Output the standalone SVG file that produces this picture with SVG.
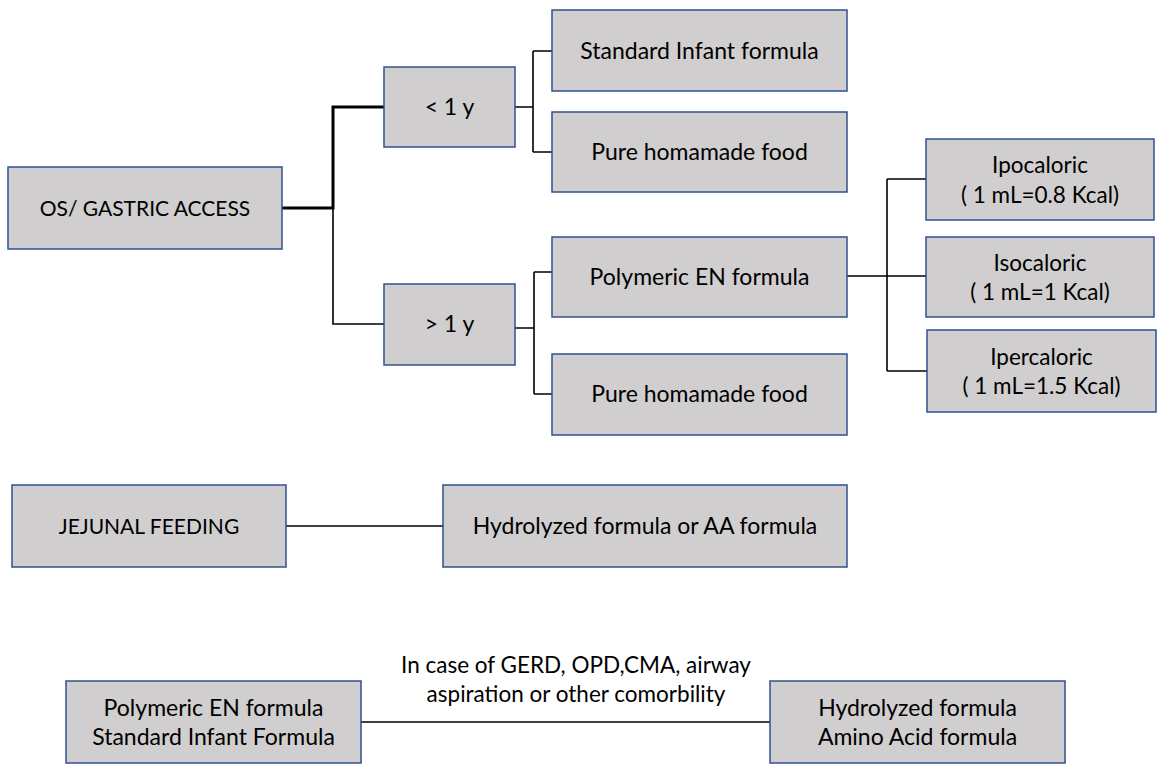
<svg xmlns="http://www.w3.org/2000/svg" width="1170" height="772" viewBox="0 0 1170 772">
<style>
.box{fill:#d0cece;stroke:#2f528f;stroke-width:1.5}
.t{font-family:Lato,"Open Sans","Liberation Sans",sans-serif;font-size:23px;fill:#000;text-anchor:middle}
.cap{font-size:21px}
.m{font-size:22.5px}
.c{fill:none;stroke:#000;stroke-width:1.6}
.ck{fill:none;stroke:#000;stroke-width:3}
</style>
<rect width="1170" height="772" fill="#fff"/>
<g id="connectors">
<path class="ck" d="M282,208 H333 V107 H384"/>
<path class="c" d="M333,208 V324 H384"/>
<path class="c" d="M515,107 H533 M533,51 V152 M533,51 H552 M533,152 H552"/>
<path class="c" d="M515,328 H534 M534,272 V394 M534,272 H552 M534,394 H552"/>
<path class="c" d="M847,276 H926 M887,179 V371 M887,179 H926 M887,371 H927"/>
<path class="c" d="M286,526 H443"/>
<path class="c" d="M361,722 H770"/>
</g>
<g id="os"><rect class="box" x="8" y="167" width="274" height="82"/><text class="t cap" x="145" y="216">OS/ GASTRIC ACCESS</text></g>
<g id="lt1"><rect class="box" x="384" y="67" width="131" height="80"/><text class="t" x="449.5" y="115">&lt; 1 y</text></g>
<g id="gt1"><rect class="box" x="384" y="284" width="131" height="81"/><text class="t" x="449.5" y="332">&gt; 1 y</text></g>
<g id="std"><rect class="box" x="552" y="10" width="295" height="81"/><text class="t" x="699.5" y="59">Standard Infant formula</text></g>
<g id="pure1"><rect class="box" x="552" y="112" width="295" height="80"/><text class="t" x="699.5" y="160">Pure homamade food</text></g>
<g id="poly"><rect class="box" x="552" y="237" width="295" height="80"/><text class="t" x="699.5" y="285">Polymeric EN formula</text></g>
<g id="pure2"><rect class="box" x="552" y="354" width="295" height="81"/><text class="t" x="699.5" y="402">Pure homamade food</text></g>
<g id="ipo"><rect class="box" x="926" y="139" width="228" height="81"/><text class="t m" x="1040" y="173">Ipocaloric</text><text class="t m" x="1040" y="203">( 1 mL=0.8 Kcal)</text></g>
<g id="iso"><rect class="box" x="926" y="237" width="228" height="80"/><text class="t m" x="1040" y="271">Isocaloric</text><text class="t m" x="1040" y="300">( 1 mL=1 Kcal)</text></g>
<g id="iper"><rect class="box" x="927" y="330" width="229" height="82"/><text class="t m" x="1041.5" y="365">Ipercaloric</text><text class="t m" x="1041.5" y="394">( 1 mL=1.5 Kcal)</text></g>
<g id="jej"><rect class="box" x="12" y="485" width="274" height="82"/><text class="t cap" x="149" y="534">JEJUNAL FEEDING</text></g>
<g id="hyd"><rect class="box" x="443" y="485" width="404" height="82"/><text class="t" x="645" y="534">Hydrolyzed formula or AA formula</text></g>
<g id="bl"><rect class="box" x="66" y="681" width="295" height="82"/><text class="t" x="213.5" y="716">Polymeric EN formula</text><text class="t" x="213.5" y="745">Standard Infant Formula</text></g>
<g id="br"><rect class="box" x="770" y="681" width="295" height="82"/><text class="t" x="917.5" y="716">Hydrolyzed formula</text><text class="t" x="917.5" y="745">Amino Acid formula</text></g>
<g id="label"><text class="t m" x="576" y="673">In case of GERD, OPD,CMA, airway</text><text class="t m" x="576" y="702">aspiration or other comorbility</text></g>
</svg>
